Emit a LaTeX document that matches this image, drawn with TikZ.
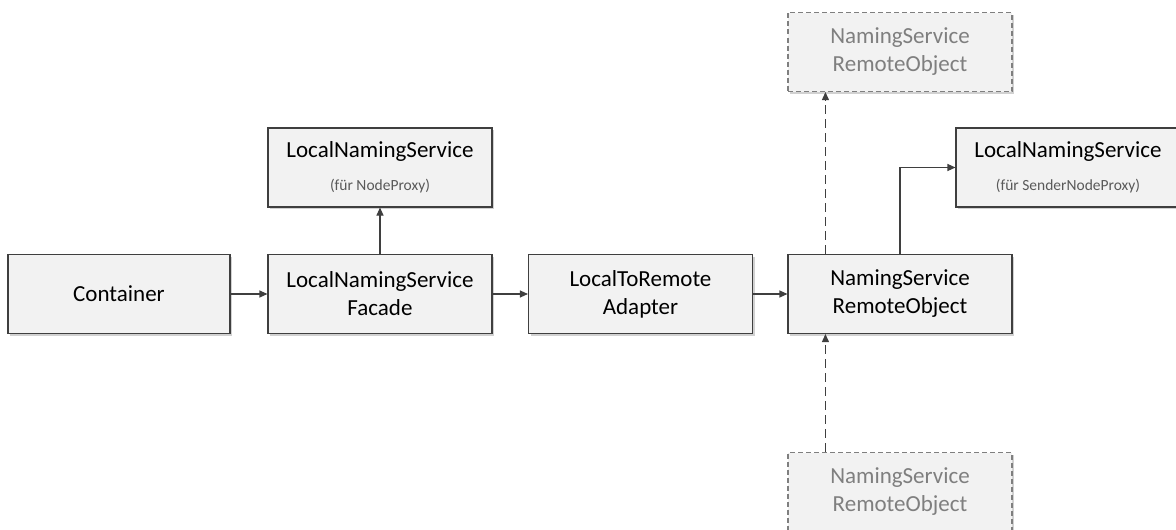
\documentclass[tikz,border=0pt]{standalone}
\usepackage{fontspec}
\setmainfont{Carlito}
\usetikzlibrary{arrows.meta,shadows}
\definecolor{boxfill}{HTML}{F2F2F2}
\definecolor{boxline}{HTML}{3F3F3F}
\definecolor{ghost}{HTML}{7F7F7F}
\definecolor{subtext}{HTML}{595959}
\tikzset{
  box/.style={draw=boxline, line width=1.1pt, fill=boxfill,
    minimum width=224pt, minimum height=79pt, inner sep=0pt, align=center,
    font=\fontsize{23}{28}\selectfont, text=black,
    drop shadow={shadow xshift=2pt, shadow yshift=-2pt, fill=black!30, opacity=0.6}},
  ghostbox/.style={box, draw=ghost, dashed, dash pattern=on 5pt off 3pt, text=ghost},
  conn/.style={draw=boxline, line width=1.1pt, -{Triangle[length=8pt,width=7pt]}},
  dconn/.style={conn, dash pattern=on 9pt off 5pt}
}
\newcommand{\subline}[1]{{\fontsize{15.5}{18}\selectfont\color{subtext}#1}}
\begin{document}
\begin{tikzpicture}[x=1pt,y=-1pt]
\useasboundingbox (0,0) rectangle (1176,530);
\node[box, minimum width=222pt] (container) at (119,294) {Container};
\node[box] (facade) at (380,294) {LocalNamingService\\Facade};
\node[box] (lnsleft) at (380,167.5) {LocalNamingService\\[5pt]\subline{(für NodeProxy)}};
\node[box] (l2r) at (640.5,294) {LocalToRemote\\Adapter};
\node[box] (nsro) at (900,294) {NamingService\\RemoteObject};
\node[ghostbox] (nsrotop) at (900,52) {NamingService\\RemoteObject};
\node[box] (lnsright) at (1068,167.5) {LocalNamingService\\[5pt]\subline{(für SenderNodeProxy)}};
\node[ghostbox] (nsrobot) at (900,492) {NamingService\\RemoteObject};

\draw[conn] (container.east) -- (facade.west);
\draw[conn] (facade.north) -- (lnsleft.south);
\draw[conn] (facade.east) -- (l2r.west);
\draw[conn] (l2r.east) -- (nsro.west);
\draw[dconn] (nsro.north -| nsrotop.south west) ++(38,0) coordinate (a1) -- (a1 |- nsrotop.south);
\draw[conn] (nsro.north) -- (nsro.north |- lnsright.west) -- (lnsright.west);
\draw[dconn] (nsrobot.north west) ++(38,0) coordinate (b1) -- (b1 |- nsro.south);
\end{tikzpicture}
\end{document}
